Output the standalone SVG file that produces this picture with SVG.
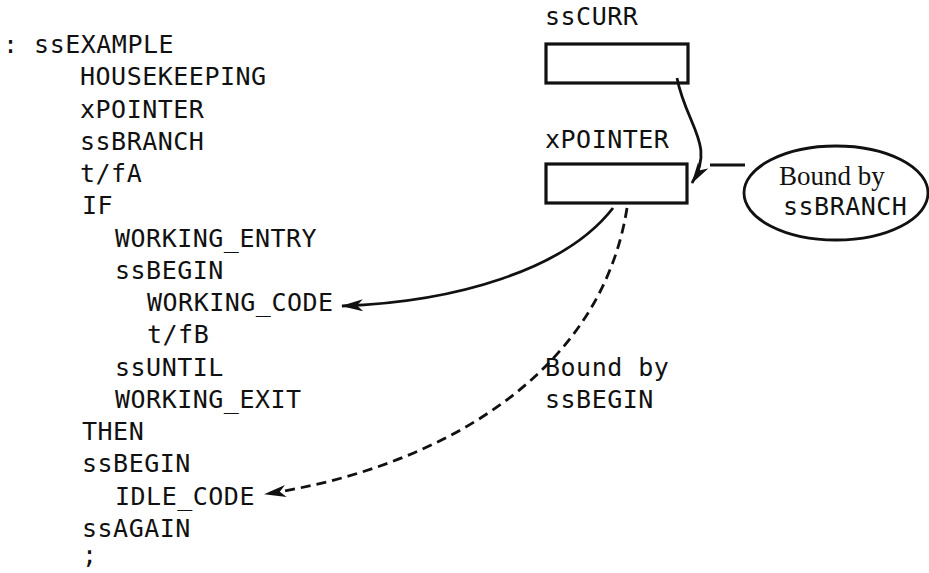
<svg xmlns="http://www.w3.org/2000/svg" width="929" height="573" viewBox="0 0 929 573">
<style>
  .m { font-family: "DejaVu Sans Mono", "Liberation Mono", monospace; font-size: 25px; letter-spacing: 0.5px; fill: #111; }
  .s { font-family: "Liberation Serif", "Times New Roman", serif; font-size: 27px; fill: #111; }
  .box { fill: #fff; stroke: #111; stroke-width: 3.2; }
  .ln { fill: none; stroke: #111; stroke-width: 2.8; }
  .dash { stroke-dasharray: 10 6; }
</style>
<defs>
  <marker id="ah" viewBox="0 0 22 12" refX="21" refY="6" markerWidth="22" markerHeight="12" markerUnits="userSpaceOnUse" orient="auto">
    <path d="M0,0 L22,6 L0,12 L6,6 Z" fill="#111"/>
  </marker>
</defs>
<rect width="929" height="573" fill="#fff"/>
<g id="code">
  <text class="m" x="3" y="53" xml:space="preserve">: ssEXAMPLE</text>
  <text class="m" x="80" y="85">HOUSEKEEPING</text>
  <text class="m" x="80" y="118">xPOINTER</text>
  <text class="m" x="80" y="150">ssBRANCH</text>
  <text class="m" x="80" y="182">t/fA</text>
  <text class="m" x="82" y="214">IF</text>
  <text class="m" x="115" y="247">WORKING_ENTRY</text>
  <text class="m" x="115" y="279">ssBEGIN</text>
  <text class="m" x="147" y="311">WORKING_CODE</text>
  <text class="m" x="147" y="343">t/fB</text>
  <text class="m" x="115" y="376">ssUNTIL</text>
  <text class="m" x="115" y="408">WORKING_EXIT</text>
  <text class="m" x="82" y="440">THEN</text>
  <text class="m" x="82" y="472">ssBEGIN</text>
  <text class="m" x="115" y="505">IDLE_CODE</text>
  <text class="m" x="82" y="537">ssAGAIN</text>
  <text class="m" x="82" y="564">;</text>
</g>
<g id="sscurr">
  <text class="m" x="545" y="25">ssCURR</text>
  <rect class="box" x="546" y="44" width="142" height="39"/>
</g>
<g id="xpointer">
  <text class="m" x="545" y="148">xPOINTER</text>
  <rect class="box" x="546" y="164" width="141" height="39"/>
</g>
<g id="bound-branch">
  <ellipse cx="836" cy="193" rx="92" ry="47" fill="#fff" stroke="#111" stroke-width="2.8"/>
  <text class="s" x="779" y="185">Bound by</text>
  <text class="m" x="783" y="215">ssBRANCH</text>
</g>
<g id="bound-begin">
  <text class="m" x="545" y="376">Bound by</text>
  <text class="m" x="545" y="408">ssBEGIN</text>
</g>
<g id="connectors">
  <path class="ln" d="M677,78 C686,125 716,145 692,183" marker-end="url(#ah)"/>
  <path class="ln" d="M710,165 L745,165"/>
  <path class="ln" d="M613,208 C565,270 455,302 342,306" marker-end="url(#ah)"/>
  <path class="ln dash" d="M627,208 C600,380 430,470 265,494" marker-end="url(#ah)"/>
</g>
</svg>
